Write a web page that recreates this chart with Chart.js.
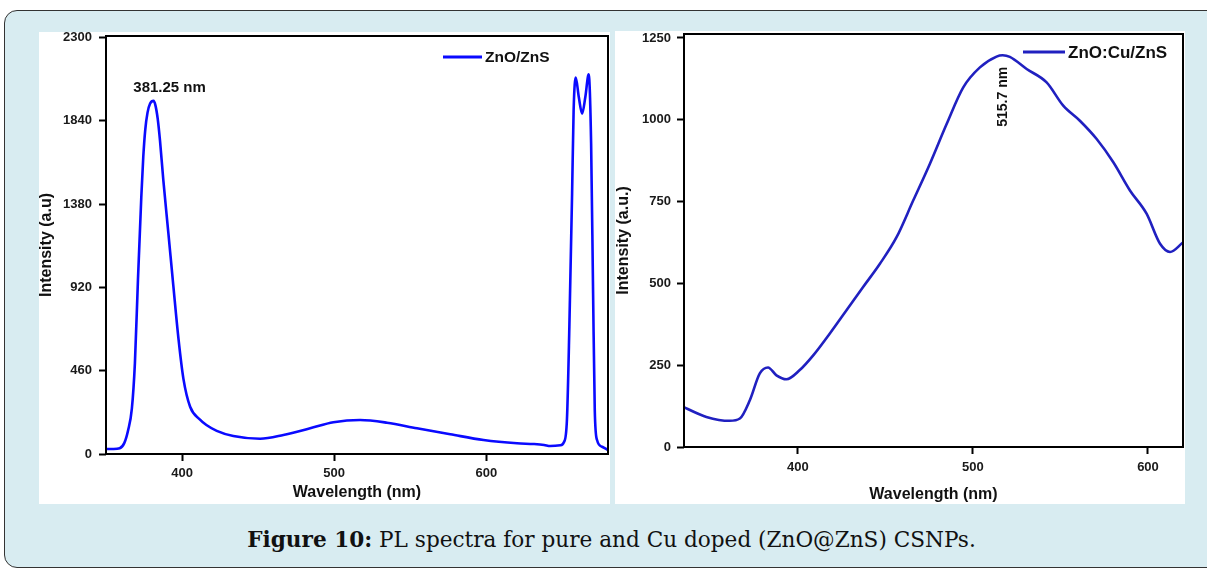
<!DOCTYPE html>
<html>
<head>
<meta charset="utf-8">
<script src="https://cdn.jsdelivr.net/npm/chart.js"></script>
<style>
html,body{margin:0;padding:0;background:#fff;}
body{width:1207px;height:568px;position:relative;overflow:hidden;}
#frame{position:absolute;left:4px;top:10px;width:1230px;height:558px;background:#d8ecf1;border:1.5px solid #333;border-radius:13px;box-sizing:border-box;}
.panel{position:absolute;background:#fff;}
#p1{left:39px;top:32px;width:571px;height:472px;}
#p2{left:615px;top:31px;width:570px;height:473px;}
canvas{position:absolute;display:block;}
#c1{left:39px;top:22px;}
#c2{left:615px;top:21px;}
#cap{position:absolute;left:8px;width:1207px;top:527px;line-height:26px;text-align:center;font-family:"DejaVu Serif",serif;font-size:21.6px;color:#111;}
</style>
</head>
<body>
<div id="frame"></div>
<div class="panel" id="p1"></div>
<div class="panel" id="p2"></div>
<canvas id="c1" width="571" height="482"></canvas>
<canvas id="c2" width="570" height="483"></canvas>
<div id="cap"><b>Figure 10:</b> PL spectra for pure and Cu doped (ZnO@ZnS) CSNPs.</div>
<script>
// ZnO/ZnS spectrum (left)
const wavelengthA = [350, 355, 359, 362, 364.5, 367, 369, 371, 373.2, 374.5, 375.8, 377.3, 379, 381.25, 382.5, 384, 385.5, 387.7, 391, 394.3, 397.6, 400.9, 405.3, 411.8, 416, 422.8, 433.7, 451.3, 466.6, 484.2, 499.5, 517, 534.7, 554.4, 576.3, 598.2, 620.2, 631.1, 638, 642, 648.7, 651, 653, 654.6, 656.4, 657.4, 658.8, 660.8, 663, 665.1, 667.3, 668.9, 670.2, 671.3, 672.8, 676.1, 680];
const intensityA  = [28, 28, 32, 60, 130, 250, 502, 960, 1418, 1640, 1790, 1885, 1935, 1950, 1925, 1850, 1730, 1511, 1220, 925, 640, 415, 261, 190, 160, 128, 99, 84, 105, 142, 175, 188, 173, 142, 109, 77, 59, 55, 50, 44, 48, 65, 188, 702, 1440, 1897, 2078, 1971, 1879, 1971, 2096, 1715, 888, 243, 77, 40, 22];

// ZnO:Cu/ZnS spectrum (right)
const wavelengthB = [335, 336.4, 347.8, 361.1, 366.9, 372.6, 378.3, 383, 387.8, 393.5, 401.1, 408.8, 418.3, 427.8, 437.3, 446.9, 456.4, 465.9, 475.4, 485, 494.5, 504, 513.5, 517, 521.1, 530.7, 542.1, 551.6, 561.1, 570.7, 580.2, 589.7, 599.2, 606.9, 612.6, 620];
const intensityB  = [122, 118, 92, 80, 87, 143, 225, 243, 219, 207, 235, 280, 347, 418, 489, 560, 641, 753, 865, 987, 1099, 1160, 1193, 1197, 1192, 1155, 1114, 1043, 997, 941, 870, 784, 713, 621, 596, 625];

const ticksAx = [400, 500, 600];
const ticksAy = [0, 460, 920, 1380, 1840, 2300];
const ticksBx = [400, 500, 600];
const ticksBy = [0, 250, 500, 750, 1000, 1250];

Chart.defaults.font.family = '"Liberation Sans", Arial, sans-serif';
Chart.defaults.color = '#1a1a1a';

// box round the plot, legend line and peak labels
const decor = {
  id: 'decor',
  afterDatasetsDraw(chart, args, opts) {
    const a = chart.chartArea, ctx = chart.ctx;
    const sx = chart.scales.x, sy = chart.scales.y;
    ctx.save();
    ctx.strokeStyle = '#000';
    ctx.lineWidth = 2;
    ctx.strokeRect(a.left, a.top, a.right - a.left, a.bottom - a.top);

    // legend
    const lg = opts.legend;
    ctx.strokeStyle = chart.data.datasets[0].borderColor;
    ctx.lineWidth = 3;
    ctx.beginPath();
    ctx.moveTo(a.right - lg.from, a.top + lg.dy);
    ctx.lineTo(a.right - lg.to, a.top + lg.dy);
    ctx.stroke();
    ctx.fillStyle = '#111';
    ctx.font = 'bold ' + lg.size + 'px "Liberation Sans", Arial, sans-serif';
    ctx.textAlign = 'left';
    ctx.textBaseline = 'middle';
    ctx.fillText(chart.data.datasets[0].label, a.right - lg.to + 3, a.top + lg.dy + 1);

    // peak label
    const n = opts.note;
    ctx.font = 'bold ' + n.size + 'px "Liberation Sans", Arial, sans-serif';
    ctx.textAlign = 'center';
    ctx.translate(sx.getPixelForValue(n.x), sy.getPixelForValue(n.y));
    ctx.rotate(n.rot);
    ctx.fillText(n.text, 0, 0);
    ctx.restore();
  }
};

function makeChart(id, o) {
  return new Chart(document.getElementById(id), {
    type: 'line',
    data: {
      datasets: [{
        label: o.label,
        data: o.xs.map((x, i) => ({x: x, y: o.ys[i]})),
        borderColor: o.color,
        borderWidth: 2.6,
        pointRadius: 0,
        cubicInterpolationMode: 'monotone',
        fill: false
      }]
    },
    options: {
      responsive: false,
      animation: false,
      layout: {padding: o.pad},
      plugins: {
        legend: {display: false},
        tooltip: {enabled: false},
        decor: {legend: o.legend, note: o.note}
      },
      scales: {
        x: {
          type: 'linear', min: o.xmin, max: o.xmax,
          afterBuildTicks: s => { s.ticks = o.xticks.map(v => ({value: v})); },
          afterFit: s => { s.height = o.xh; s.paddingLeft = 0; s.paddingRight = 0; },
          border: {display: false},
          grid: {drawOnChartArea: false, drawTicks: true, tickLength: 7, tickWidth: 2, tickColor: '#000'},
          ticks: {font: {size: 13, weight: 'bold'}, padding: o.xpad, maxRotation: 0, autoSkip: false,
                  callback: v => String(v)},
          title: {display: true, text: 'Wavelength (nm)', color: '#111',
                  font: {size: 16, weight: 'bold', lineHeight: 1}, padding: {top: 0, bottom: 0}}
        },
        y: {
          min: 0, max: o.ymax,
          afterBuildTicks: s => { s.ticks = o.yticks.map(v => ({value: v})); },
          afterFit: s => { s.width = o.yw; s.paddingTop = 0; s.paddingBottom = 0; },
          border: {display: false},
          grid: {drawOnChartArea: false, drawTicks: true, tickLength: 7, tickWidth: 2, tickColor: '#000'},
          ticks: {font: {size: 13, weight: 'bold'}, padding: o.ypad, autoSkip: false,
                  callback: v => String(v)},
          title: {display: true, text: o.ytitle, color: '#111',
                  font: {size: 16, weight: 'bold', lineHeight: 1}, padding: {top: o.ytpad, bottom: 0}}
        }
      }
    },
    plugins: [decor]
  });
}

makeChart('c1', {
  label: 'ZnO/ZnS', xs: wavelengthA, ys: intensityA, color: '#0a0aff',
  xmin: 350, xmax: 680, ymax: 2308, xticks: ticksAx, yticks: ticksAy,
  pad: {top: 14, right: 2, bottom: 3, left: 0}, xh: 47, yw: 67, xpad: 5, ypad: 7, ytpad: 0,
  ytitle: 'Intensity (a.u)',
  legend: {from: 165, to: 126, dy: 21, size: 15.5},
  note: {text: '381.25 nm', x: 391.8, y: 2019, rot: 0, size: 15}
});

makeChart('c2', {
  label: 'ZnO:Cu/ZnS', xs: wavelengthB, ys: intensityB, color: '#2020c0',
  xmin: 335, xmax: 620, ymax: 1262, xticks: ticksBx, yticks: ticksBy,
  pad: {top: 13, right: 2, bottom: 1, left: 0}, xh: 56, yw: 69, xpad: 6, ypad: 6, ytpad: 1,
  ytitle: 'Intensity (a.u.)',
  legend: {from: 160, to: 118, dy: 18, size: 17},
  note: {text: '515.7 nm', x: 517.4, y: 1070, rot: -Math.PI / 2, size: 14}
});
</script>
</body>
</html>
